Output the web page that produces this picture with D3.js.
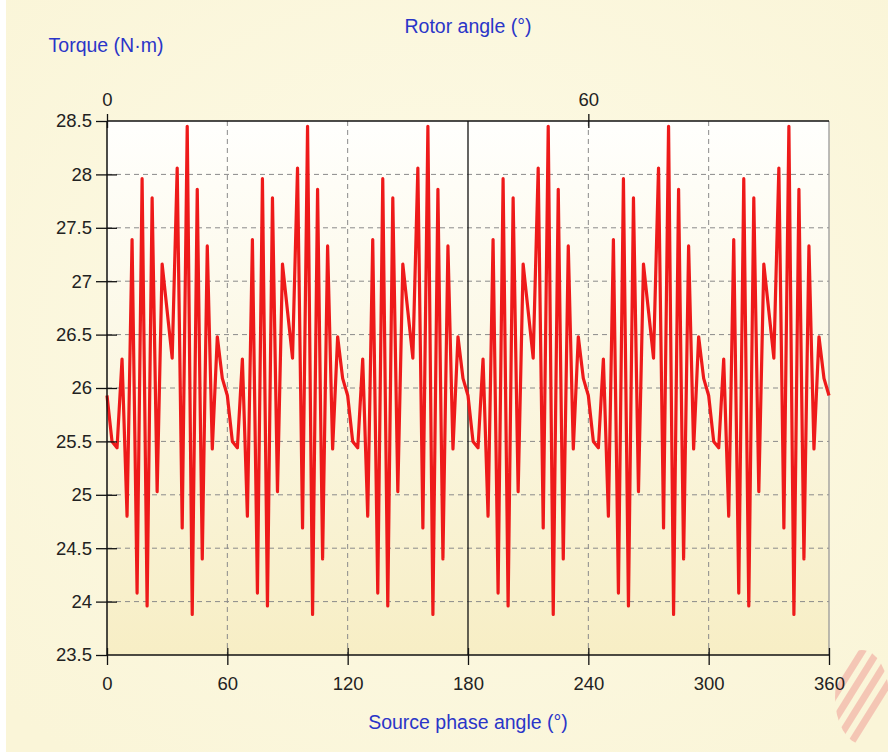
<!DOCTYPE html>
<html>
<head>
<meta charset="utf-8">
<script src="https://cdn.jsdelivr.net/npm/d3@7"></script>
<style>
	body {margin:0; background:#ffffff;}
	svg {display:block;}
	.tick text {font-family:"Liberation Sans", Arial, sans-serif; font-size:18.5px; fill:#222;}
	.axisTitle {font-family:"Liberation Sans", Arial, sans-serif; font-size:19.5px; fill:#2a35c8;}
</style>
</head>
<body>
<script>
//torque ripple vs source phase angle, sampled every 2.5 deg
var angleStep = 2.5;

var torque = [
	25.93, 25.50, 25.44, 26.27, 24.80, 27.39, 24.08, 27.96, 23.96, 27.78, 25.03, 27.16,
	26.72, 26.28, 28.06, 24.69, 28.45, 23.88, 27.86, 24.40, 27.33, 25.43, 26.48, 26.09,
	25.93, 25.50, 25.44, 26.27, 24.80, 27.39, 24.08, 27.96, 23.96, 27.78, 25.03, 27.16,
	26.72, 26.28, 28.06, 24.69, 28.45, 23.88, 27.86, 24.40, 27.33, 25.43, 26.48, 26.09,
	25.93, 25.50, 25.44, 26.27, 24.80, 27.39, 24.08, 27.96, 23.96, 27.78, 25.03, 27.16,
	26.72, 26.28, 28.06, 24.69, 28.45, 23.88, 27.86, 24.40, 27.33, 25.43, 26.48, 26.09,
	25.93, 25.50, 25.44, 26.27, 24.80, 27.39, 24.08, 27.96, 23.96, 27.78, 25.03, 27.16,
	26.72, 26.28, 28.06, 24.69, 28.45, 23.88, 27.86, 24.40, 27.33, 25.43, 26.48, 26.09,
	25.93, 25.50, 25.44, 26.27, 24.80, 27.39, 24.08, 27.96, 23.96, 27.78, 25.03, 27.16,
	26.72, 26.28, 28.06, 24.69, 28.45, 23.88, 27.86, 24.40, 27.33, 25.43, 26.48, 26.09,
	25.93, 25.50, 25.44, 26.27, 24.80, 27.39, 24.08, 27.96, 23.96, 27.78, 25.03, 27.16,
	26.72, 26.28, 28.06, 24.69, 28.45, 23.88, 27.86, 24.40, 27.33, 25.43, 26.48, 26.09,
	25.93
];

var xTicks = [0, 60, 120, 180, 240, 300, 360];
var rotorTicks = [0, 60];
var yTicks = [23.5, 24, 24.5, 25, 25.5, 26, 26.5, 27, 27.5, 28, 28.5];

(function(){

var width = 888,
	height = 756,
	plotLeft = 107,
	plotRight = 829,
	plotTop = 121,
	plotBottom = 655;

var svg = d3.select("body")
	.append("svg")
	.attr("width", width)
	.attr("height", height);

var defs = svg.append("defs");

var plotGrad = defs.append("linearGradient")
	.attr("id", "plotGrad")
	.attr("x1", 0).attr("y1", 0)
	.attr("x2", 0).attr("y2", 1);
plotGrad.append("stop").attr("offset", "0%").attr("stop-color", "#fffffd");
plotGrad.append("stop").attr("offset", "100%").attr("stop-color", "#f7eec5");

var pageGrad = defs.append("radialGradient")
	.attr("id", "pageGrad")
	.attr("cx", "50%").attr("cy", "45%").attr("r", "70%");
pageGrad.append("stop").attr("offset", "0%").attr("stop-color", "#fdfae6");
pageGrad.append("stop").attr("offset", "100%").attr("stop-color", "#faf5d8");

defs.append("clipPath")
	.attr("id", "logoClip")
	.append("ellipse")
	.attr("cx", 862)
	.attr("cy", 697)
	.attr("rx", 27)
	.attr("ry", 47);

//panel background
svg.append("rect")
	.attr("x", 6)
	.attr("y", 0)
	.attr("width", width - 6)
	.attr("height", 752)
	.style("fill", "url(#pageGrad)");

//faded logo stripes in the corner
var logo = svg.append("g")
	.attr("class", "logo")
	.attr("clip-path", "url(#logoClip)")
	.style("stroke", "#f0a69c")
	.style("stroke-opacity", 0.6)
	.style("stroke-width", 7);

var dir = [0.53, -0.85],
	nrm = [0.85, 0.53];

[0, 1, 2, 3].forEach(function(i){
	var cx = 858 + (i - 1.5) * 13 * nrm[0],
		cy = 695 + (i - 1.5) * 13 * nrm[1];
	logo.append("line")
		.attr("x1", cx - 60 * dir[0])
		.attr("y1", cy - 60 * dir[1])
		.attr("x2", cx + 60 * dir[0])
		.attr("y2", cy + 60 * dir[1]);
});

var x = d3.scaleLinear()
	.domain([0, 360])
	.range([plotLeft, plotRight]);

var xRotor = d3.scaleLinear()
	.domain([0, 90])
	.range([plotLeft, plotRight]);

var y = d3.scaleLinear()
	.domain([23.5, 28.5])
	.range([plotBottom, plotTop]);

svg.append("rect")
	.attr("x", plotLeft)
	.attr("y", plotTop)
	.attr("width", plotRight - plotLeft)
	.attr("height", plotBottom - plotTop)
	.style("fill", "url(#plotGrad)");

//dashed grid
svg.append("g")
	.attr("class", "gridY")
	.selectAll("line")
	.data(yTicks.slice(1, -1))
	.enter()
	.append("line")
	.attr("x1", plotLeft)
	.attr("x2", plotRight)
	.attr("y1", function(d){ return y(d); })
	.attr("y2", function(d){ return y(d); })
	.style("stroke", "#8a8a8a")
	.style("stroke-width", 1)
	.style("stroke-dasharray", "5,4");

svg.append("g")
	.attr("class", "gridX")
	.selectAll("line")
	.data([60, 120, 240, 300])
	.enter()
	.append("line")
	.attr("x1", function(d){ return x(d); })
	.attr("x2", function(d){ return x(d); })
	.attr("y1", plotTop)
	.attr("y2", plotBottom)
	.style("stroke", "#8a8a8a")
	.style("stroke-width", 1)
	.style("stroke-dasharray", "5,4");

//solid divider at 180 and right border
svg.append("line")
	.attr("x1", x(180)).attr("x2", x(180))
	.attr("y1", plotTop).attr("y2", plotBottom)
	.style("stroke", "#111")
	.style("stroke-width", 1.3);

svg.append("line")
	.attr("x1", x(360)).attr("x2", x(360))
	.attr("y1", plotTop).attr("y2", plotBottom)
	.style("stroke", "#999")
	.style("stroke-width", 1.3);

//torque trace
var line = d3.line()
	.x(function(d, i){ return x(i * angleStep); })
	.y(function(d){ return y(d); });

svg.append("path")
	.datum(torque)
	.attr("d", line)
	.style("fill", "none")
	.style("stroke", "#ee1a1a")
	.style("stroke-width", 3.2)
	.style("stroke-linejoin", "round");

//axes
var xAxis = d3.axisBottom(x)
	.tickValues(xTicks)
	.tickSize(10)
	.tickPadding(12)
	.tickFormat(d3.format("d"));

var gx = svg.append("g")
	.attr("class", "axis")
	.attr("transform", "translate(0," + plotBottom + ")")
	.call(xAxis);

var topAxis = d3.axisTop(xRotor)
	.tickValues(rotorTicks)
	.tickSize(7)
	.tickPadding(8)
	.tickFormat(d3.format("d"));

var gt = svg.append("g")
	.attr("class", "axis")
	.attr("transform", "translate(0," + plotTop + ")")
	.call(topAxis);

var yAxis = d3.axisLeft(y)
	.tickValues(yTicks)
	.tickSize(11)
	.tickPadding(4)
	.tickFormat(function(d){ return d3.format("")(d); });

var gy = svg.append("g")
	.attr("class", "axis")
	.attr("transform", "translate(" + plotLeft + ",0)")
	.call(yAxis);

[gx, gt, gy].forEach(function(g){
	g.select(".domain")
		.style("stroke", "#111")
		.style("stroke-width", 1.5);
	g.selectAll(".tick line")
		.style("stroke", "#111")
		.style("stroke-width", 1.3);
});
//the domain paths carry outer ticks, draw the frame ourselves
gx.select(".domain").attr("d", "M" + plotLeft + ",0H" + plotRight);
gt.select(".domain").attr("d", "M" + plotLeft + ",0H" + plotRight);
gy.select(".domain").attr("d", "M0," + plotTop + "V" + plotBottom);

//ticks cross the axis lines
gx.selectAll(".tick line").attr("y1", -7);
gt.selectAll(".tick line").attr("y1", 7);
gy.selectAll(".tick line").attr("x1", 10);
gy.selectAll(".tick").filter(function(d){ return d === 23.5 || d === 28.5; })
	.select("line").attr("x1", 0);

//axis titles
svg.append("text")
	.attr("class", "axisTitle")
	.attr("x", 106)
	.attr("y", 52)
	.attr("text-anchor", "middle")
	.text("Torque (N·m)");

svg.append("text")
	.attr("class", "axisTitle")
	.attr("x", 468)
	.attr("y", 33)
	.attr("text-anchor", "middle")
	.text("Rotor angle (°)");

svg.append("text")
	.attr("class", "axisTitle")
	.attr("x", 468)
	.attr("y", 729)
	.attr("text-anchor", "middle")
	.text("Source phase angle (°)");

})();
</script>
</body>
</html>
